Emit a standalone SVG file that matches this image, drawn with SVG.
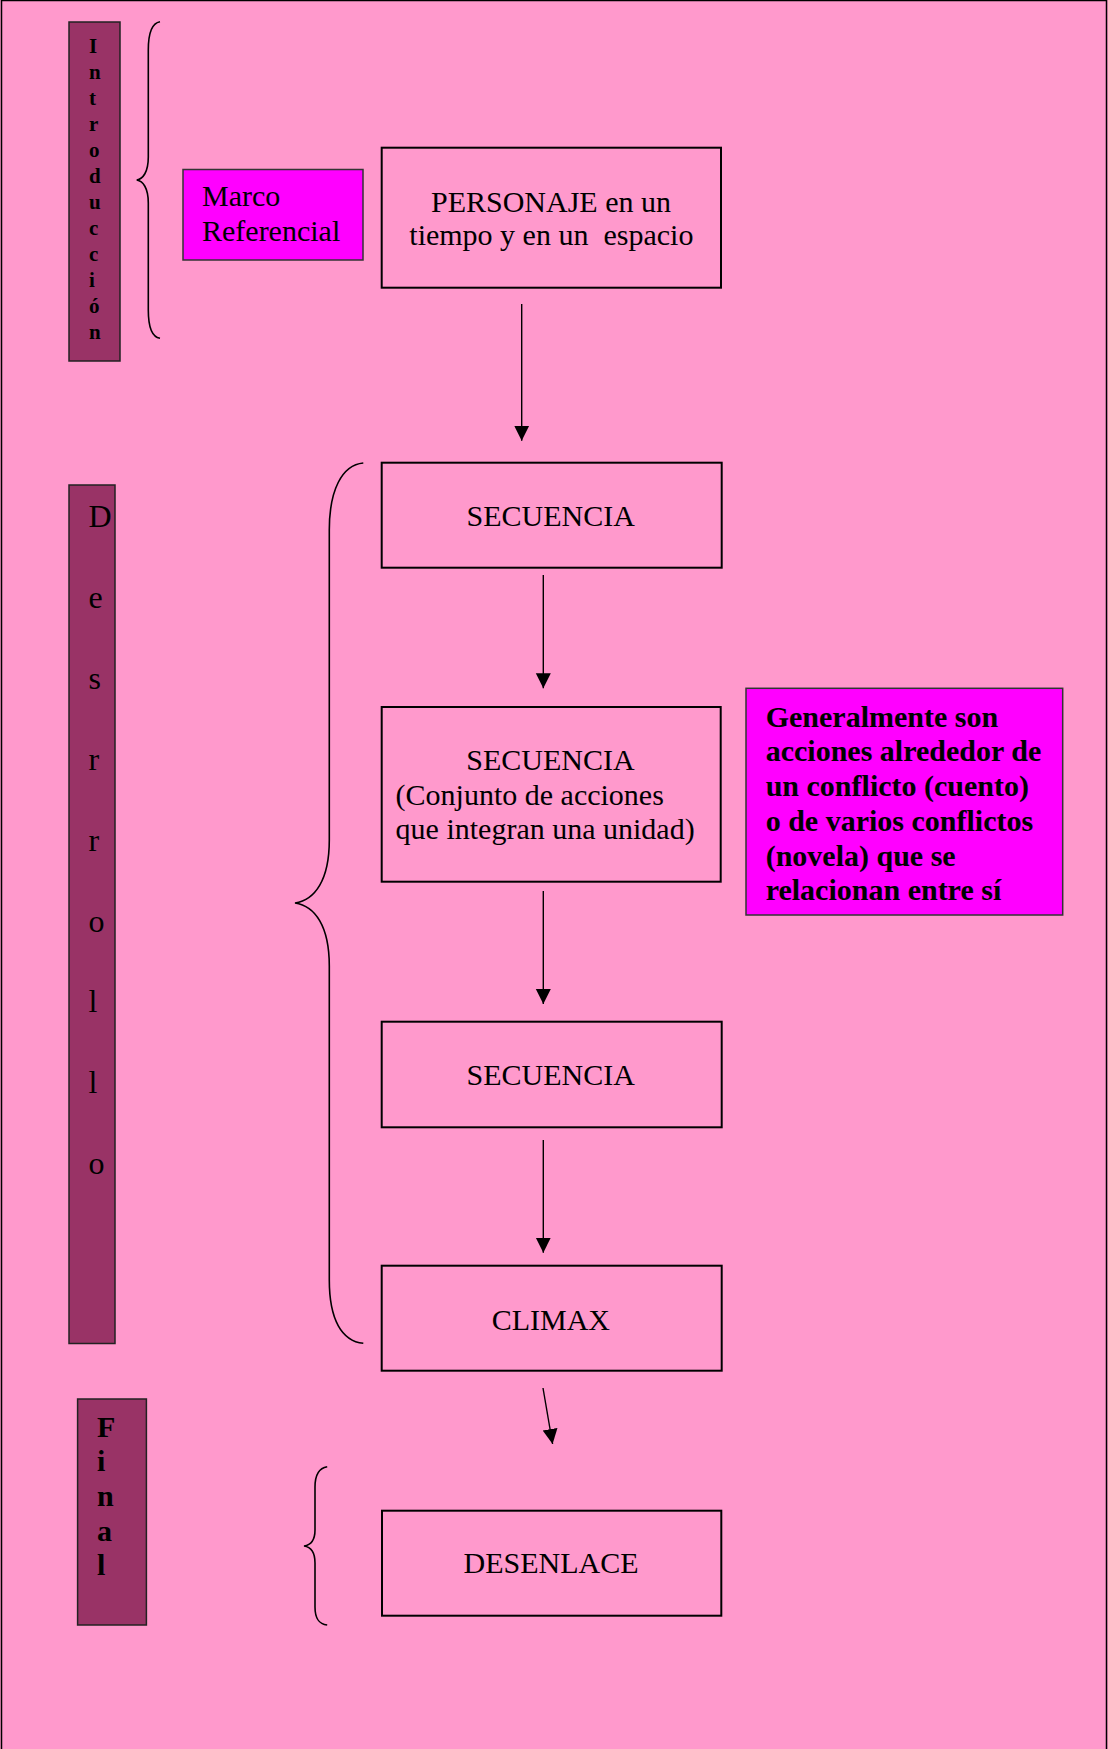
<svg xmlns="http://www.w3.org/2000/svg" width="1108" height="1749" viewBox="0 0 1108 1749">
<style>
.t{font-family:"Liberation Serif","Times New Roman",serif;font-size:30px;fill:#000}
.b{font-weight:bold}
.box{fill:none;stroke:#000;stroke-width:2}
.bar{fill:#993366;stroke:#222;stroke-width:1.5}
.mag{fill:#FF00FF;stroke:#333;stroke-width:1.5}
.brace{fill:none;stroke:#000;stroke-width:1.6}
.arr{stroke:#000;stroke-width:1.4;fill:none;marker-end:url(#ah)}
</style>
<defs>
<marker id="ah" markerUnits="userSpaceOnUse" markerWidth="16" markerHeight="16" viewBox="0 0 16 16" refX="15" refY="8" orient="auto">
<path d="M0,0.5 L15,8 L0,15.5 Z" fill="#000"/>
</marker>
</defs>
<rect x="0" y="0" width="1108" height="1749" fill="#FF99CC"/>
<path d="M1.5,1760 L1.5,0.5 L1106.5,0.5 L1106.5,1760" fill="none" stroke="#000" stroke-width="1.5"/>

<g id="introduccion">
<rect class="bar" x="69" y="22" width="51" height="339"/>
<g class="t b" style="font-size:21px">
<text x="89" y="52.7">I</text>
<text x="89" y="78.7">n</text>
<text x="89" y="104.7">t</text>
<text x="89" y="130.7">r</text>
<text x="89" y="156.7">o</text>
<text x="89" y="182.7">d</text>
<text x="89" y="208.7">u</text>
<text x="89" y="234.7">c</text>
<text x="89" y="260.7">c</text>
<text x="89" y="286.7">i</text>
<text x="89" y="312.7">ó</text>
<text x="89" y="338.7">n</text>
</g>
</g>
<g id="brace-intro">
<path class="brace" d="M160,21.7 C152,23 148.3,32 148.3,50 L148.3,157 C148.3,172 143,179 136.7,180 C143,181 148.3,188 148.3,203 L148.3,310 C148.3,328 152,337 160,338.3"/>
</g>
<g id="marco">
<rect class="mag" x="183" y="169.5" width="180" height="90.5"/>
<text class="t" x="202" y="206">Marco</text>
<text class="t" x="202" y="241">Referencial</text>
</g>
<g id="personaje">
<rect class="box" x="381.7" y="147.7" width="339.3" height="140"/>
<text class="t" x="551" y="211.7" text-anchor="middle">PERSONAJE en un</text>
<text class="t" x="409.3" y="245" xml:space="preserve">tiempo y en un  espacio</text>
</g>

<g id="desarrollo">
<rect class="bar" x="69" y="485" width="46" height="858.5"/>
<g class="t" style="font-size:32px">
<text x="88.5" y="527">D</text>
<text x="88.5" y="608">e</text>
<text x="88.5" y="689">s</text>
<text x="88.5" y="770">r</text>
<text x="88.5" y="851">r</text>
<text x="88.5" y="931.5">o</text>
<text x="88.5" y="1012">l</text>
<text x="88.5" y="1093">l</text>
<text x="88.5" y="1174">o</text>
</g>
</g>
<g id="brace-desarrollo">
<path class="brace" d="M363.3,463 C342,465 329.3,490 329.3,530 L329.3,840 C329.3,880 315,900 295,903 C315,906 329.3,926 329.3,966 L329.3,1280 C329.3,1320 342,1341 363.3,1343.3"/>
</g>
<g id="secuencia1">
<rect class="box" x="381.7" y="462.7" width="340" height="105"/>
<text class="t" x="550.7" y="526" text-anchor="middle">SECUENCIA</text>
</g>
<g id="secuencia2">
<rect class="box" x="381.7" y="707" width="339" height="174.7"/>
<text class="t" x="550.4" y="770" text-anchor="middle">SECUENCIA</text>
<text class="t" x="395.6" y="805">(Conjunto de acciones</text>
<text class="t" x="395.6" y="839.3">que integran una unidad)</text>
</g>
<g id="nota">
<rect class="mag" x="746" y="688.3" width="316.7" height="226.7"/>
<g class="t b">
<text x="765.7" y="726.7">Generalmente son</text>
<text x="765.7" y="761.4">acciones alrededor de</text>
<text x="765.7" y="796.1">un conflicto (cuento)</text>
<text x="765.7" y="830.8">o de varios conflictos</text>
<text x="765.7" y="865.5">(novela) que se</text>
<text x="765.7" y="900.2">relacionan entre sí</text>
</g>
</g>
<g id="secuencia3">
<rect class="box" x="381.7" y="1021.7" width="340" height="105.6"/>
<text class="t" x="550.7" y="1085" text-anchor="middle">SECUENCIA</text>
</g>
<g id="climax">
<rect class="box" x="381.7" y="1265.7" width="340" height="105"/>
<text class="t" x="550.8" y="1330" text-anchor="middle">CLIMAX</text>
</g>

<g id="final">
<rect class="bar" x="77.6" y="1399" width="68.8" height="226"/>
<g class="t b">
<text x="97" y="1436.7">F</text>
<text x="97" y="1471.3">i</text>
<text x="97" y="1505.9">n</text>
<text x="97" y="1540.5">a</text>
<text x="97" y="1575.1">l</text>
</g>
</g>
<g id="brace-final">
<path class="brace" d="M327.2,1466.7 C319,1468 315,1475 315,1487 L315,1530 C315,1540 311,1545 304,1546 C311,1547 315,1552 315,1563 L315,1607 C315,1619 319,1624 327.2,1625"/>
</g>
<g id="desenlace">
<rect class="box" x="382" y="1510.7" width="339.3" height="105"/>
<text class="t" x="551" y="1573.3" text-anchor="middle">DESENLACE</text>
</g>

<g id="connectors">
<line class="arr" x1="521.7" y1="304" x2="521.7" y2="440.7"/>
<line class="arr" x1="543.3" y1="575" x2="543.3" y2="688.3"/>
<line class="arr" x1="543.3" y1="891" x2="543.3" y2="1004"/>
<line class="arr" x1="543.3" y1="1140" x2="543.3" y2="1252.7"/>
<line class="arr" x1="543" y1="1388" x2="552.6" y2="1444"/>
</g>
</svg>
